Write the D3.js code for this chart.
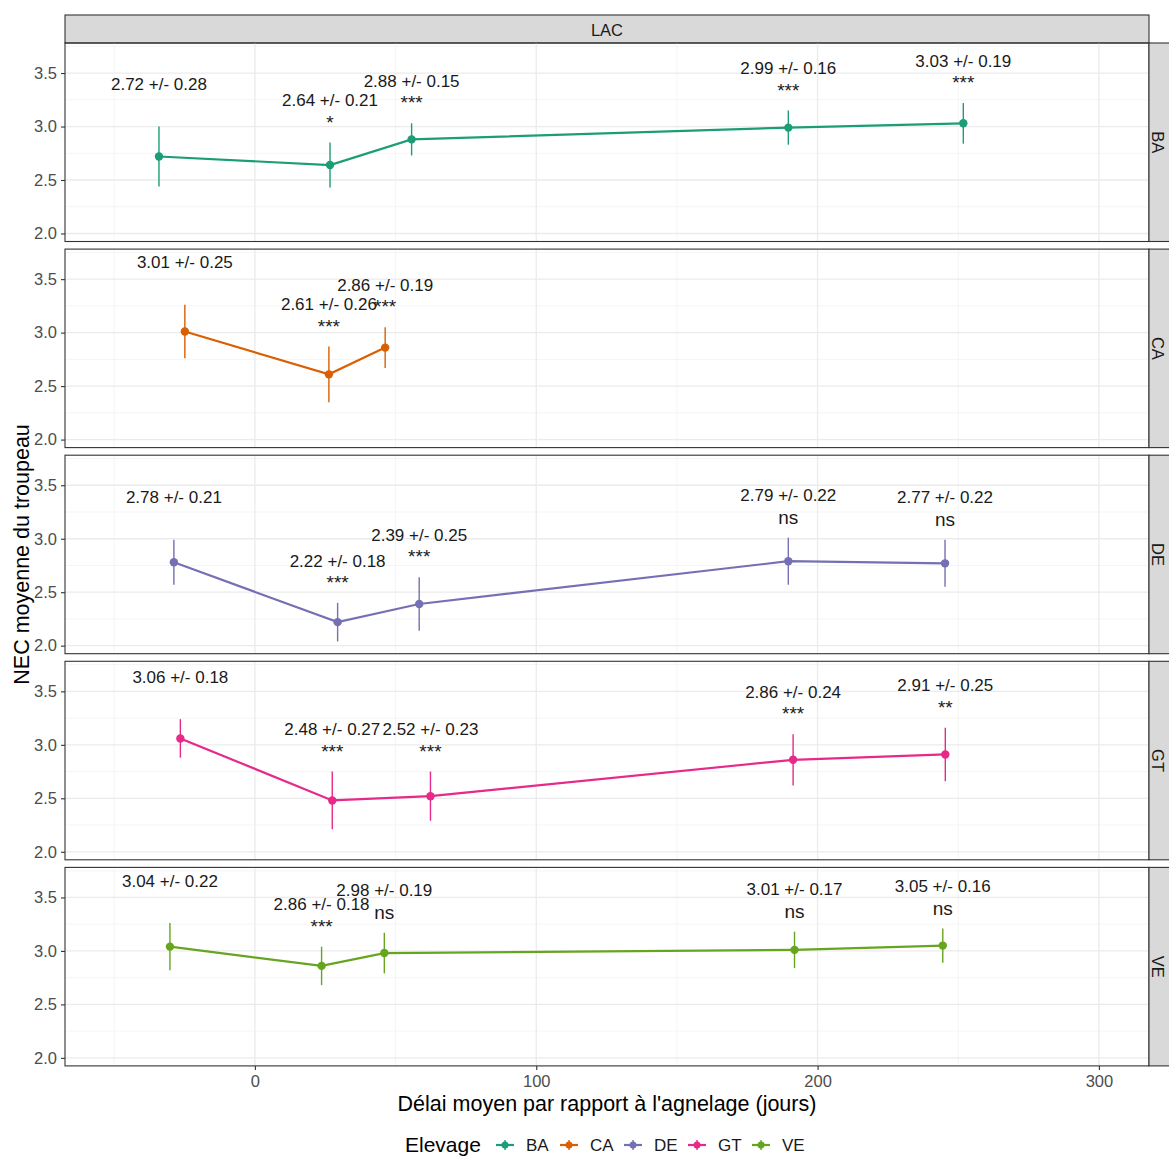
<!DOCTYPE html>
<html><head><meta charset="utf-8">
<script src="https://cdn.jsdelivr.net/npm/d3@7"></script>
<style>body{margin:0;background:#fff;} text{font-family:"Liberation Sans",Arial,sans-serif;}</style>
</head><body>
<svg id="chart" width="1169" height="1157"></svg>
<script>
// ---- data ----
const elevages = ["BA","CA","DE","GT","VE"];
const colors = ["#1B9E77","#D95F02","#7570B3","#E7298A","#66A61E"];
const daysBA = [-34.1, 26.7, 55.7, 189.6, 251.8];
const meanBA = [2.72, 2.64, 2.88, 2.99, 3.03];
const sdBA   = [0.28, 0.21, 0.15, 0.16, 0.19];
const sigBA  = ["", "*", "***", "***", "***"];
const daysCA = [-24.9, 26.3, 46.3];
const meanCA = [3.01, 2.61, 2.86];
const sdCA   = [0.25, 0.26, 0.19];
const sigCA  = ["", "***", "***"];
const daysDE = [-28.8, 29.4, 58.4, 189.6, 245.3];
const meanDE = [2.78, 2.22, 2.39, 2.79, 2.77];
const sdDE   = [0.21, 0.18, 0.25, 0.22, 0.22];
const sigDE  = ["", "***", "***", "ns", "ns"];
const daysGT = [-26.5, 27.5, 62.4, 191.3, 245.4];
const meanGT = [3.06, 2.48, 2.52, 2.86, 2.91];
const sdGT   = [0.18, 0.27, 0.23, 0.24, 0.25];
const sigGT  = ["", "***", "***", "***", "**"];
const daysVE = [-30.2, 23.7, 46.0, 191.8, 244.5];
const meanVE = [3.04, 2.86, 2.98, 3.01, 3.05];
const sdVE   = [0.22, 0.18, 0.19, 0.17, 0.16];
const sigVE  = ["", "***", "ns", "ns", "ns"];
const xTicks = [0, 100, 200, 300];
const xMinor = [-50, 50, 150, 250];
const yTicks = [2.0, 2.5, 3.0, 3.5];
const yMinor = [2.25, 2.75, 3.25, 3.75];
const facetCol = "LAC";
const xTitle = "Délai moyen par rapport à l'agnelage (jours)";
const yTitle = "NEC moyenne du troupeau";
const legendTitle = "Elevage";

const series = {
  BA: {days: daysBA, mean: meanBA, sd: sdBA, sig: sigBA},
  CA: {days: daysCA, mean: meanCA, sd: sdCA, sig: sigCA},
  DE: {days: daysDE, mean: meanDE, sd: sdDE, sig: sigDE},
  GT: {days: daysGT, mean: meanGT, sd: sdGT, sig: sigGT},
  VE: {days: daysVE, mean: meanVE, sd: sdVE, sig: sigVE}
};

// ---- layout ----
const svg = d3.select("#chart");
const L = 65, R = 1149;
const top0 = 43, panelH = 198.5, pitch = 206.1;
const stripH = 28, stripW = 28;
const x = d3.scaleLinear().domain([-67.5, 317.8]).range([L, R]);
const yDomain = [1.925, 3.781];

// top strip
svg.append("rect").attr("x", L).attr("y", top0 - stripH).attr("width", R - L).attr("height", stripH)
  .attr("fill", "#D9D9D9").attr("stroke", "#333").attr("stroke-width", 1.1);
svg.append("text").attr("x", (L + R) / 2).attr("y", top0 - stripH / 2 + 1).attr("dy", "0.35em")
  .attr("text-anchor", "middle").attr("font-size", 16.5).attr("fill", "#1A1A1A").text(facetCol);

elevages.forEach((e, i) => {
  const pt = top0 + i * pitch;
  const y = d3.scaleLinear().domain(yDomain).range([pt + panelH, pt]);
  const g = svg.append("g");
  const col = colors[i];
  const d = series[e];
  const pts = d.days.map((dd, k) => ({x: dd, m: d.mean[k], s: d.sd[k], sig: d.sig[k]}));

  // grid
  g.selectAll(".xmin").data(xMinor).join("line")
    .attr("x1", v => x(v)).attr("x2", v => x(v)).attr("y1", pt).attr("y2", pt + panelH)
    .attr("stroke", "#F2F2F2").attr("stroke-width", 0.8);
  g.selectAll(".ymin").data(yMinor).join("line")
    .attr("y1", v => y(v)).attr("y2", v => y(v)).attr("x1", L).attr("x2", R)
    .attr("stroke", "#F2F2F2").attr("stroke-width", 0.8);
  g.selectAll(".xmaj").data(xTicks).join("line")
    .attr("x1", v => x(v)).attr("x2", v => x(v)).attr("y1", pt).attr("y2", pt + panelH)
    .attr("stroke", "#EBEBEB").attr("stroke-width", 1.3);
  g.selectAll(".ymaj").data(yTicks).join("line")
    .attr("y1", v => y(v)).attr("y2", v => y(v)).attr("x1", L).attr("x2", R)
    .attr("stroke", "#EBEBEB").attr("stroke-width", 1.3);

  // line
  g.append("path").datum(pts)
    .attr("d", d3.line().x(p => x(p.x)).y(p => y(p.m)))
    .attr("fill", "none").attr("stroke", col).attr("stroke-width", 2.2);
  // error bars
  g.selectAll(".eb").data(pts).join("line")
    .attr("x1", p => x(p.x)).attr("x2", p => x(p.x))
    .attr("y1", p => y(p.m - p.s)).attr("y2", p => y(p.m + p.s))
    .attr("stroke", col).attr("stroke-width", 1.4);
  // points
  g.selectAll(".pt").data(pts).join("circle")
    .attr("cx", p => x(p.x)).attr("cy", p => y(p.m)).attr("r", 4.2).attr("fill", col);
  // labels
  g.selectAll(".lab").data(pts).join("text")
    .attr("x", p => x(p.x)).attr("y", p => y(p.m + p.s + 0.34))
    .attr("text-anchor", "middle").attr("font-size", 17).attr("fill", "#1A1A1A")
    .text(p => p.m.toFixed(2) + " +/- " + p.s.toFixed(2));
  g.selectAll(".sig").data(pts.filter(p => p.sig)).join("text")
    .attr("x", p => x(p.x)).attr("y", p => y(p.m + p.s + 0.13))
    .attr("text-anchor", "middle").attr("font-size", 19).attr("fill", "#1A1A1A")
    .text(p => p.sig);

  // panel border
  g.append("rect").attr("x", L).attr("y", pt).attr("width", R - L).attr("height", panelH)
    .attr("fill", "none").attr("stroke", "#333").attr("stroke-width", 1.1);

  // y axis
  const ya = g.append("g").attr("transform", `translate(${L},0)`)
    .call(d3.axisLeft(y).tickValues(yTicks).tickFormat(d3.format(".1f")).tickSize(4).tickPadding(4));
  ya.select(".domain").remove();
  ya.selectAll("line").attr("stroke", "#333").attr("stroke-width", 1.1);
  ya.selectAll("text").attr("font-size", 16.5).attr("fill", "#4D4D4D")
    .attr("font-family", "Liberation Sans, Arial, sans-serif");

  // right strip
  g.append("rect").attr("x", R).attr("y", pt).attr("width", stripW).attr("height", panelH)
    .attr("fill", "#D9D9D9").attr("stroke", "#333").attr("stroke-width", 1.1);
  g.append("text").attr("transform", `translate(${R + stripW / 2 - 5},${pt + panelH / 2}) rotate(90)`)
    .attr("text-anchor", "middle").attr("dy", "0.35em").attr("font-size", 16.5).attr("fill", "#1A1A1A")
    .text(e);
});

// x axis
const bottom = top0 + 4 * pitch + panelH;
const xa = svg.append("g").attr("transform", `translate(0,${bottom})`)
  .call(d3.axisBottom(x).tickValues(xTicks).tickSize(4).tickPadding(5));
xa.select(".domain").remove();
xa.selectAll("line").attr("stroke", "#333").attr("stroke-width", 1.1);
xa.selectAll("text").attr("font-size", 16.5).attr("fill", "#4D4D4D")
  .attr("font-family", "Liberation Sans, Arial, sans-serif");

// titles
svg.append("text").attr("x", (L + R) / 2).attr("y", 1111).attr("text-anchor", "middle")
  .attr("font-size", 21.5).attr("fill", "#000").text(xTitle);
svg.append("text").attr("transform", `translate(29,${(top0 + bottom) / 2}) rotate(-90)`)
  .attr("text-anchor", "middle").attr("font-size", 21.5).attr("fill", "#000").text(yTitle);

// legend
const lg = svg.append("g");
lg.append("text").attr("x", 405).attr("y", 1152).attr("font-size", 21).attr("fill", "#000").text(legendTitle);
const keyX = [505, 569, 633, 697, 761];
elevages.forEach((e, i) => {
  lg.append("line").attr("x1", keyX[i] - 9).attr("x2", keyX[i] + 9).attr("y1", 1145).attr("y2", 1145)
    .attr("stroke", colors[i]).attr("stroke-width", 2.2);
  lg.append("line").attr("x1", keyX[i]).attr("x2", keyX[i]).attr("y1", 1140).attr("y2", 1150)
    .attr("stroke", colors[i]).attr("stroke-width", 1.4);
  lg.append("circle").attr("cx", keyX[i]).attr("cy", 1145).attr("r", 3.5).attr("fill", colors[i]);
  lg.append("text").attr("x", keyX[i] + 21).attr("y", 1151).attr("font-size", 17).attr("fill", "#1A1A1A").text(e);
});
</script>
</body></html>
